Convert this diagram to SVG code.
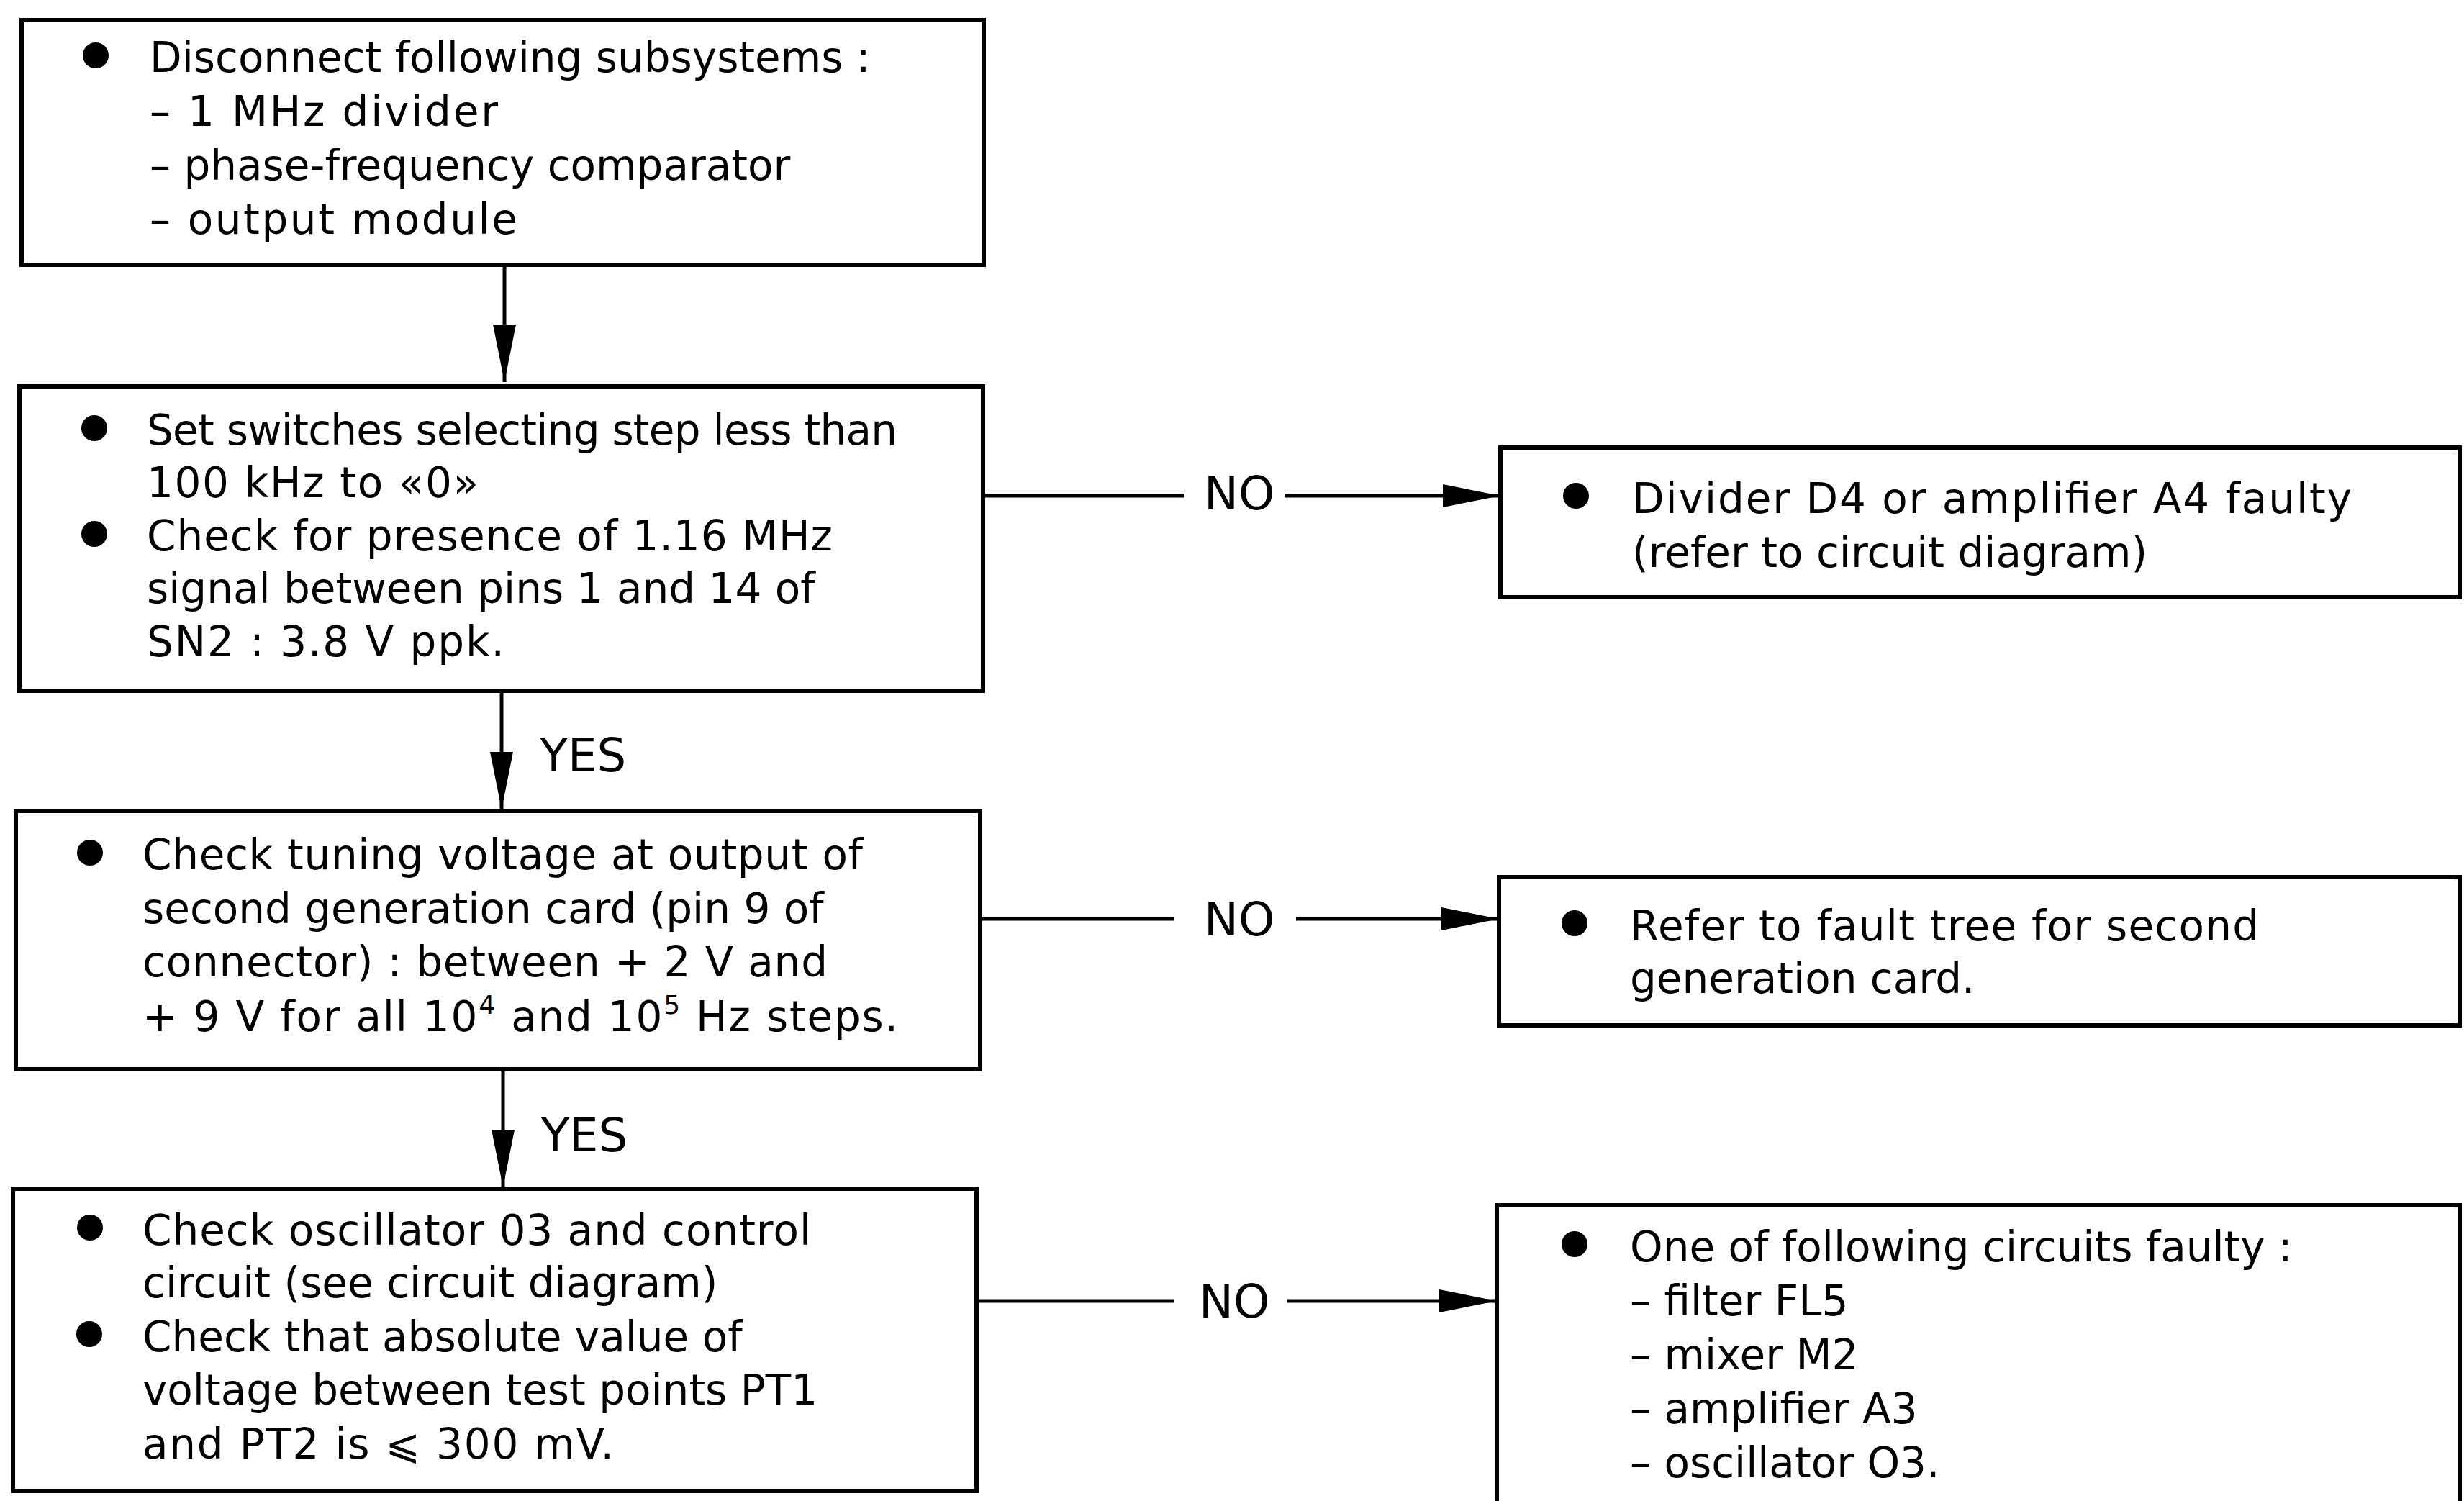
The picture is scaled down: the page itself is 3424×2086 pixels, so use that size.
<svg xmlns="http://www.w3.org/2000/svg" width="3424" height="2086" viewBox="0 0 3424 2086">
<style>
.box{fill:#fff;stroke:#000;stroke-width:6}
.t{font-family:"DejaVu Sans",sans-serif;font-size:58px;fill:#000}
.lbl{font-family:"DejaVu Sans",sans-serif;font-size:64px;fill:#000}
.bul{fill:#000}
.con{stroke:#000;stroke-width:5;fill:none}
</style>
<defs>
<marker id="ah" markerUnits="userSpaceOnUse" markerWidth="82" markerHeight="34" refX="80" refY="17" orient="auto" viewBox="0 0 82 34">
<path d="M0,1 L80,17 L0,33 Z" fill="#000"/>
</marker>
</defs>
<rect width="3424" height="2086" fill="#fff"/>
<g id="connectors">
<path class="con" d="M701,368 L701,531" marker-end="url(#ah)"/>
<path class="con" d="M697,960 L697,1125" marker-end="url(#ah)"/>
<path class="con" d="M699,1486 L699,1650" marker-end="url(#ah)"/>
<path class="con" d="M1366,689 L1645,689"/>
<path class="con" d="M1785,689 L2085,689" marker-end="url(#ah)"/>
<path class="con" d="M1362,1277 L1632,1277"/>
<path class="con" d="M1801,1277 L2083,1277" marker-end="url(#ah)"/>
<path class="con" d="M1357,1808 L1632,1808"/>
<path class="con" d="M1788,1808 L2080,1808" marker-end="url(#ah)"/>
<text class="lbl" x="1673" y="708">NO</text>
<text class="lbl" x="1673" y="1300">NO</text>
<text class="lbl" x="1666" y="1831">NO</text>
<text class="lbl" x="750" y="1072">YES</text>
<text class="lbl" x="752" y="1600">YES</text>
</g>
<g id="n1">
<rect class="box" x="30" y="28" width="1337" height="340"/>
<circle class="bul" cx="133" cy="77" r="18"/>
<text class="t" x="208" y="100">Disconnect following subsystems :</text>
<text class="t" x="208" y="175" textLength="484">– 1 MHz divider</text>
<text class="t" x="208" y="250">– phase-frequency comparator</text>
<text class="t" x="208" y="325" textLength="511">– output module</text>
</g>
<g id="n2">
<rect class="box" x="27" y="537" width="1339" height="423"/>
<circle class="bul" cx="131" cy="595" r="18"/>
<circle class="bul" cx="131" cy="742" r="18"/>
<text class="t" x="204" y="618" textLength="1043">Set switches selecting step less than</text>
<text class="t" x="204" y="691" textLength="461">100 kHz to «0»</text>
<text class="t" x="204" y="765" textLength="953">Check for presence of 1.16 MHz</text>
<text class="t" x="204" y="838">signal between pins 1 and 14 of</text>
<text class="t" x="204" y="912" textLength="497">SN2 : 3.8 V ppk.</text>
</g>
<g id="n3">
<rect class="box" x="22" y="1127" width="1340" height="359"/>
<circle class="bul" cx="125" cy="1185" r="18"/>
<text class="t" x="198" y="1208" textLength="1001">Check tuning voltage at output of</text>
<text class="t" x="198" y="1283">second generation card (pin 9 of</text>
<text class="t" x="198" y="1357" textLength="952">connector) : between + 2 V and</text>
<text class="t" x="198" y="1433" textLength="1050">+ 9 V for all 10<tspan font-size="36" dy="-24">4</tspan><tspan dy="24"> and 10</tspan><tspan font-size="36" dy="-24">5</tspan><tspan dy="24"> Hz steps.</tspan></text>
</g>
<g id="n4">
<rect class="box" x="18" y="1652" width="1339" height="420"/>
<circle class="bul" cx="125" cy="1706" r="18"/>
<circle class="bul" cx="124" cy="1854" r="18"/>
<text class="t" x="198" y="1730" textLength="929">Check oscillator 03 and control</text>
<text class="t" x="198" y="1803">circuit (see circuit diagram)</text>
<text class="t" x="198" y="1878">Check that absolute value of</text>
<text class="t" x="198" y="1952">voltage between test points PT1</text>
<text class="t" x="198" y="2027" textLength="655">and PT2 is ⩽ 300 mV.</text>
</g>
<g id="n5">
<rect class="box" x="2085" y="622" width="1333" height="208"/>
<circle class="bul" cx="2190" cy="689" r="18"/>
<text class="t" x="2268" y="713" textLength="1000">Divider D4 or amplifier A4 faulty</text>
<text class="t" x="2268" y="788">(refer to circuit diagram)</text>
</g>
<g id="n6">
<rect class="box" x="2083" y="1219" width="1335" height="206"/>
<circle class="bul" cx="2188" cy="1283" r="18"/>
<text class="t" x="2265" y="1307" textLength="874">Refer to fault tree for second</text>
<text class="t" x="2265" y="1380">generation card.</text>
</g>
<g id="n7">
<rect class="box" x="2080" y="1675" width="1338" height="440"/>
<circle class="bul" cx="2188" cy="1729" r="18"/>
<text class="t" x="2265" y="1753">One of following circuits faulty :</text>
<text class="t" x="2265" y="1828">– filter FL5</text>
<text class="t" x="2265" y="1903">– mixer M2</text>
<text class="t" x="2265" y="1978">– amplifier A3</text>
<text class="t" x="2265" y="2053">– oscillator O3.</text>
</g>
</svg>
